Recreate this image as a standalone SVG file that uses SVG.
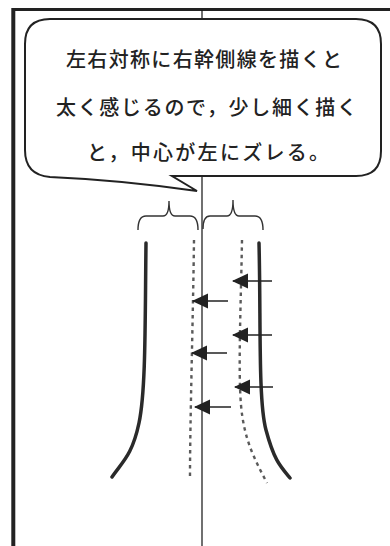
<svg xmlns="http://www.w3.org/2000/svg" width="390" height="546" viewBox="0 0 390 546">
<style>
.frame{fill:none;stroke:#222;stroke-linecap:butt}
.txt{font-family:"Noto Sans CJK JP","Noto Sans CJK SC",sans-serif;font-size:20px;font-weight:500;fill:#222}
.brace{fill:none;stroke:#333;stroke-width:1.4}
.solid{fill:none;stroke:#2a2a2a;stroke-width:3.5;stroke-linecap:round}
.dot{fill:none;stroke:#5a5a5a;stroke-width:2.4;stroke-dasharray:3.5 4}
.arr{stroke:#222;stroke-width:1.6;fill:none}
</style>
<defs>
<marker id="ah" markerUnits="userSpaceOnUse" markerWidth="16" markerHeight="16" viewBox="0 0 16 16" refX="15" refY="8" orient="auto">
<path d="M16,8 L0,0.5 L0,15.5 Z" fill="#222"/>
</marker>
</defs>
<rect width="390" height="546" fill="#fff"/>
<g id="frame">
<line class="frame" x1="13.3" y1="9.5" x2="390" y2="9.5" stroke-width="3"/>
<line class="frame" x1="13.3" y1="8" x2="13.3" y2="546" stroke-width="4"/>
<line x1="202" y1="10" x2="202" y2="546" stroke="#111" stroke-width="1.2"/>
</g>
<g id="bubble">
<path d="M50,19 L356,19 Q381,19 381,44 L381,151 Q381,176 356,176 L172,176 L197,191 Q120,180 50,177 Q25,175 25,150 L25,44 Q25,19 50,19 Z" fill="#fff" stroke="#222" stroke-width="2"/>
<text class="txt" x="66" y="66.5" textLength="276" lengthAdjust="spacing">左右対称に右幹側線を描くと</text>
<text class="txt" x="56" y="115" textLength="301" lengthAdjust="spacing">太く感じるので，少し細く描く</text>
<text class="txt" x="87" y="160" textLength="242" lengthAdjust="spacing">と，中心が左にズレる。</text>
</g>
<g id="brace-left">
<path class="brace" d="M138,230 Q138,216 146,216 L163,216 Q169,216 169,201 Q169,216 175,216 L190,216 Q198,216 198,230"/>
</g>
<g id="brace-right">
<path class="brace" d="M203,229 Q203,216 210,216 L227,216 Q233,216 233,200 Q233,216 239,216 L255,216 Q263,216 263,230"/>
</g>
<g id="left-solid"><path class="solid" d="M146,243 C145,320 146,390 139,423 S 122,462 112,477"/></g>
<g id="left-dotted"><path class="dot" d="M194,240 C193,320 190,420 190,477"/></g>
<g id="right-dotted"><path class="dot" d="M242,240 C241,300 238,370 241,405 S 255,460 267,483"/></g>
<g id="right-solid"><path class="solid" d="M259,243 C261,320 258,400 266,430 S 280,466 290,478"/></g>
<g id="connectors">
<line class="arr" x1="272" y1="281" x2="233" y2="281" marker-end="url(#ah)"/>
<line class="arr" x1="228" y1="301" x2="193" y2="301" marker-end="url(#ah)"/>
<line class="arr" x1="272" y1="335" x2="233" y2="335" marker-end="url(#ah)"/>
<line class="arr" x1="227" y1="353" x2="192" y2="353" marker-end="url(#ah)"/>
<line class="arr" x1="273" y1="387" x2="235" y2="387" marker-end="url(#ah)"/>
<line class="arr" x1="231" y1="407" x2="195" y2="407" marker-end="url(#ah)"/>
</g>
</svg>
